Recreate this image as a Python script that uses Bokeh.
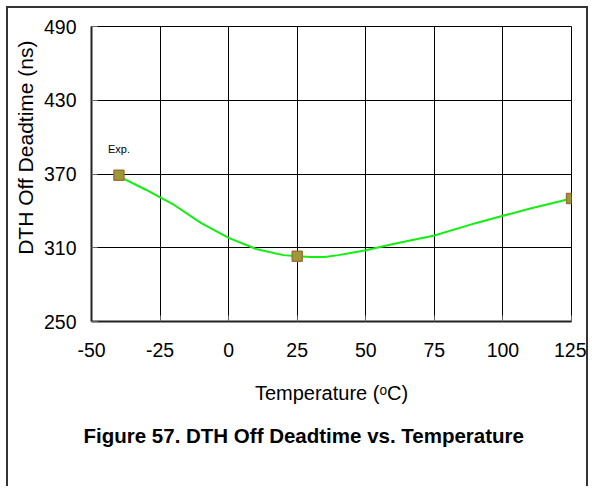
from bokeh.plotting import figure
from bokeh.models import Label, FixedTicker, Range1d, Title
from bokeh.embed import file_html
from bokeh.resources import INLINE

# ---- data ----
curve_temp = [-40, -30, -25, -20, -10, 0, 10, 20, 25, 30, 35, 40, 50, 60, 75, 90, 100, 110, 125]
curve_dt   = [368, 357, 351, 345, 330, 318, 309, 304, 303, 302.5, 302.5, 304, 308, 313, 320, 330, 336, 342, 350]
point_temp = [-40, 25, 125]
point_dt   = [369, 303, 350]
x_ticks = [-50, -25, 0, 25, 50, 75, 100, 125]
y_ticks = [250, 310, 370, 430, 490]

FONT = "Liberation Sans"

p = figure(width=582, height=480, output_backend="svg", toolbar_location=None,
           x_range=Range1d(-50, 125), y_range=Range1d(250, 490),
           min_border_left=80, min_border_right=19, min_border_top=18, min_border_bottom=167,
           x_axis_label="Temperature (\u1d52C)")
p.styles = {"margin-left": "6px", "margin-top": "6px",
            "border-left": "2px solid #333", "border-top": "2px solid #333",
            "border-right": "2px solid #333"}

p.background_fill_color = "white"
p.border_fill_color = "white"
p.outline_line_color = "black"
p.outline_line_width = 1

p.xaxis.ticker = FixedTicker(ticks=x_ticks)
p.yaxis.ticker = FixedTicker(ticks=y_ticks)
p.xaxis.major_label_overrides = {t: str(t) for t in x_ticks}
p.xgrid.ticker = FixedTicker(ticks=x_ticks)
p.ygrid.ticker = FixedTicker(ticks=y_ticks)
for g in (p.xgrid, p.ygrid):
    g.grid_line_color = "black"
    g.grid_line_width = 1
    g.grid_line_alpha = 1

for ax in (p.xaxis, p.yaxis):
    ax.axis_line_color = "#222222"
    ax.axis_line_width = 2
    ax.major_tick_in = 6
    ax.major_tick_out = 0
    ax.major_tick_line_color = "#666666"
    ax.minor_tick_line_color = None
    ax.major_label_text_font = FONT
    ax.major_label_text_font_size = "19.5px"
    ax.major_label_text_color = "black"
    ax.axis_label_text_font = FONT
    ax.axis_label_text_font_size = "20px"
    ax.axis_label_text_font_style = "normal"
    ax.axis_label_text_color = "black"

p.yaxis.major_label_standoff = 15
p.yaxis.axis_label_standoff = 0
p.xaxis.major_label_standoff = 21
p.xaxis.axis_label_standoff = 22

# curve
p.line(curve_temp, curve_dt, line_color="#11f011", line_width=2)
# markers
p.scatter(point_temp, point_dt, marker="square", size=10,
          fill_color="#9c9a34", line_color="#a0703c", line_width=1.5)

# "Exp." annotation above first point
p.add_layout(Label(x=point_temp[0], y=point_dt[0], y_offset=20, text="Exp.",
                   text_font=FONT, text_font_size="11px", text_align="center",
                   text_baseline="bottom", text_color="black"))

# y axis title (left-side title, anchored near the top of the frame)
p.add_layout(Title(text="DTH Off Deadtime (ns)", align="right", offset=14,
                   standoff=7, text_font=FONT, text_font_size="21px",
                   text_font_style="normal", text_color="black"), "left")

# caption
p.add_layout(Title(text="Figure 57. DTH Off Deadtime vs. Temperature", align="left",
                   offset=-8, standoff=31, text_font=FONT, text_font_size="20.5px",
                   text_font_style="bold", text_color="black"), "below")

open("out.html", "w").write(file_html(p, INLINE))
